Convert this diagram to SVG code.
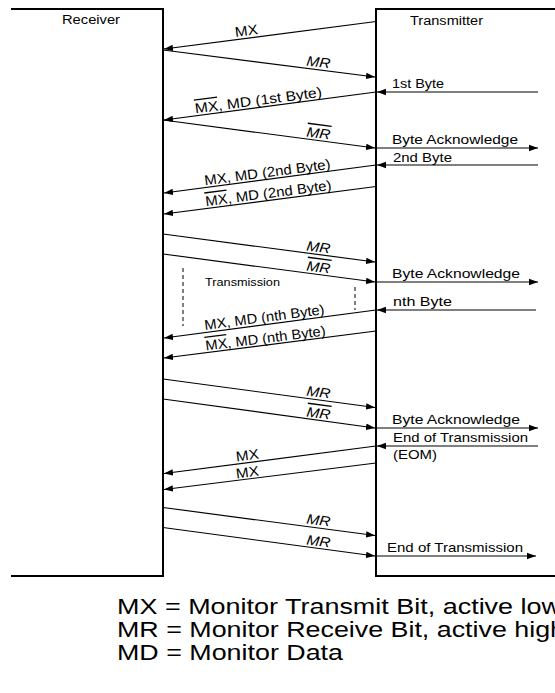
<svg xmlns="http://www.w3.org/2000/svg" width="555" height="693" viewBox="0 0 555 693">
<style>
text{font-family:"Liberation Sans",Arial,sans-serif;fill:#000}
.lbl{font-size:14px}
.side{font-size:13px}
.hdr{font-size:12px}
.it{font-style:italic}
.ov{text-decoration:overline}
.box{fill:none;stroke:#000;stroke-width:2}
.ln{stroke:#000;stroke-width:1.2;fill:none;marker-end:url(#ah)}
.dash{stroke:#000;stroke-width:1;stroke-dasharray:4 3}
.leg{font-size:22px}
</style>
<defs>
<marker id="ah" markerUnits="userSpaceOnUse" markerWidth="10" markerHeight="8" refX="9" refY="4" orient="auto">
<path d="M0,0.8 L9,4 L0,7.2 Z" fill="#000"/>
</marker>
</defs>
<rect width="555" height="693" fill="#fff"/>
<g id="receiver">
<path class="box" d="M11,9 H163 V576 H11"/>
<text class="hdr" x="62" y="24.3" textLength="58" lengthAdjust="spacingAndGlyphs">Receiver</text>
</g>
<g id="transmitter">
<path class="box" d="M555,9 H376 V576 H555"/>
<text class="hdr" x="410" y="25" textLength="73" lengthAdjust="spacingAndGlyphs">Transmitter</text>
</g>
<g id="connectors">
<line class="ln" x1="376" y1="21.5" x2="164" y2="49"/>
<line class="ln" x1="163" y1="50" x2="375" y2="77"/>
<line class="ln" x1="538" y1="92" x2="377" y2="92"/>
<line class="ln" x1="376" y1="92" x2="164" y2="120"/>
<line class="ln" x1="163" y1="120" x2="375" y2="148"/>
<line class="ln" x1="376" y1="148" x2="538" y2="148"/>
<line class="ln" x1="538" y1="165" x2="377" y2="165"/>
<line class="ln" x1="376" y1="165" x2="164" y2="193"/>
<line class="ln" x1="376" y1="186.5" x2="164" y2="214"/>
<line class="ln" x1="163" y1="234" x2="375" y2="262"/>
<line class="ln" x1="163" y1="254" x2="375" y2="282"/>
<line class="ln" x1="376" y1="282" x2="538" y2="282"/>
<line class="ln" x1="536" y1="310" x2="377" y2="310"/>
<line class="ln" x1="376" y1="310" x2="164" y2="338"/>
<line class="ln" x1="376" y1="331" x2="164" y2="358"/>
<line class="ln" x1="163" y1="379" x2="375" y2="407.5"/>
<line class="ln" x1="163" y1="399" x2="375" y2="428"/>
<line class="ln" x1="376" y1="428" x2="538" y2="428"/>
<line class="ln" x1="538" y1="446" x2="377" y2="446"/>
<line class="ln" x1="376" y1="446" x2="164" y2="473.5"/>
<line class="ln" x1="376" y1="463" x2="164" y2="489.5"/>
<line class="ln" x1="163" y1="507.5" x2="375" y2="535.5"/>
<line class="ln" x1="163" y1="527.5" x2="375" y2="556"/>
<line class="ln" x1="376" y1="556" x2="536" y2="556"/>
<line class="dash" x1="183" y1="268" x2="183" y2="326"/>
<line class="dash" x1="355" y1="287" x2="355" y2="310"/>
</g>
<g id="labels">
<text class="lbl" text-anchor="middle" x="247" y="35.5" transform="rotate(-7.4 247 35.5)" textLength="23" lengthAdjust="spacingAndGlyphs">MX</text>
<text class="lbl it" text-anchor="middle" x="318" y="67" transform="rotate(7.2 318 67)" textLength="24" lengthAdjust="spacingAndGlyphs">MR</text>
<text class="lbl" text-anchor="middle" x="259" y="105" transform="rotate(-7.5 259 105)" textLength="128" lengthAdjust="spacingAndGlyphs"><tspan class="ov">MX</tspan>, MD (1st Byte)</text>
<text class="lbl it ov" text-anchor="middle" x="318" y="138" transform="rotate(7.5 318 138)" textLength="24" lengthAdjust="spacingAndGlyphs">MR</text>
<text class="lbl" text-anchor="middle" x="268" y="177" transform="rotate(-7.5 268 177)" textLength="127" lengthAdjust="spacingAndGlyphs">MX, MD (2nd Byte)</text>
<text class="lbl" text-anchor="middle" x="269" y="198" transform="rotate(-7.4 269 198)" textLength="127" lengthAdjust="spacingAndGlyphs"><tspan class="ov">MX</tspan>, MD (2nd Byte)</text>
<text class="lbl it" text-anchor="middle" x="318" y="252" transform="rotate(7.5 318 252)" textLength="24" lengthAdjust="spacingAndGlyphs">MR</text>
<text class="lbl it ov" text-anchor="middle" x="318" y="272" transform="rotate(7.5 318 272)" textLength="24" lengthAdjust="spacingAndGlyphs">MR</text>
<text style="font-size:10px" x="205" y="286" textLength="75" lengthAdjust="spacingAndGlyphs">Transmission</text>
<text class="lbl" text-anchor="middle" x="265" y="322" transform="rotate(-7.5 265 322)" textLength="121" lengthAdjust="spacingAndGlyphs">MX, MD (nth Byte)</text>
<text class="lbl" text-anchor="middle" x="266" y="343" transform="rotate(-7.2 266 343)" textLength="121" lengthAdjust="spacingAndGlyphs"><tspan class="ov">MX</tspan>, MD (nth Byte)</text>
<text class="lbl it" text-anchor="middle" x="318" y="397" transform="rotate(7.6 318 397)" textLength="24" lengthAdjust="spacingAndGlyphs">MR</text>
<text class="lbl it ov" text-anchor="middle" x="318" y="418" transform="rotate(7.7 318 418)" textLength="24" lengthAdjust="spacingAndGlyphs">MR</text>
<text class="lbl" text-anchor="middle" x="248" y="460" transform="rotate(-7.4 248 460)" textLength="23" lengthAdjust="spacingAndGlyphs">MX</text>
<text class="lbl" text-anchor="middle" x="248" y="477" transform="rotate(-7.1 248 477)" textLength="23" lengthAdjust="spacingAndGlyphs">MX</text>
<text class="lbl it" text-anchor="middle" x="318" y="525" transform="rotate(7.5 318 525)" textLength="24" lengthAdjust="spacingAndGlyphs">MR</text>
<text class="lbl it" text-anchor="middle" x="318" y="546" transform="rotate(7.6 318 546)" textLength="24" lengthAdjust="spacingAndGlyphs">MR</text>
<text class="side" x="392" y="88" textLength="52" lengthAdjust="spacingAndGlyphs">1st Byte</text>
<text class="side" x="392" y="144" textLength="126" lengthAdjust="spacingAndGlyphs">Byte  Acknowledge</text>
<text class="side" x="393" y="161.5" textLength="59" lengthAdjust="spacingAndGlyphs">2nd Byte</text>
<text class="side" x="392" y="278" textLength="128" lengthAdjust="spacingAndGlyphs">Byte  Acknowledge</text>
<text class="side" x="393" y="306" textLength="59" lengthAdjust="spacingAndGlyphs">nth  Byte</text>
<text class="side" x="392" y="423.5" textLength="128" lengthAdjust="spacingAndGlyphs">Byte  Acknowledge</text>
<text class="side" x="393" y="441.5" textLength="135" lengthAdjust="spacingAndGlyphs">End of Transmission</text>
<text class="side" x="393" y="459" textLength="44" lengthAdjust="spacingAndGlyphs">(EOM)</text>
<text class="side" x="387" y="551.5" textLength="136" lengthAdjust="spacingAndGlyphs">End of Transmission</text>
</g>
<g id="legend">
<text class="leg" x="117" y="614" textLength="444" lengthAdjust="spacingAndGlyphs">MX = Monitor Transmit Bit, active low</text>
<text class="leg" x="117" y="637" textLength="448" lengthAdjust="spacingAndGlyphs">MR = Monitor Receive Bit, active high</text>
<text class="leg" x="117" y="660" textLength="226" lengthAdjust="spacingAndGlyphs">MD = Monitor Data</text>
</g>
</svg>
